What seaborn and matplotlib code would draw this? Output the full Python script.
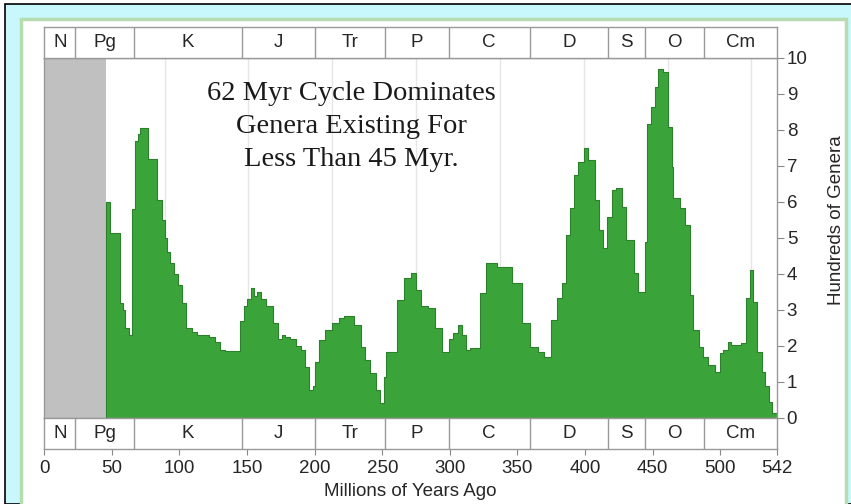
import seaborn as sns
import matplotlib.pyplot as plt
from matplotlib.patches import Rectangle

# data: step values (hundreds of genera) starting at each age (Myr)
bin_start = [46, 48.6, 56, 58, 60, 63, 65, 67, 69, 71,
             77, 83, 87, 89, 91, 93, 96, 99, 102, 105,
             109, 113, 118, 122, 126, 130, 134, 145, 148, 150,
             153, 155, 157, 160, 164, 169, 173, 176, 178, 182,
             186, 190, 193, 196, 199, 200, 203, 208, 213, 218,
             222, 229, 234, 237, 241, 245, 248, 251, 253, 261,
             266, 271, 275, 279, 284, 289, 294, 299, 302, 306,
             309, 312, 315, 322, 327, 335, 346, 353, 359, 365,
             370, 375, 379, 383, 386, 389, 392, 395, 399, 402,
             407, 410, 413, 416, 420, 423, 427, 430, 436, 439,
             444, 446, 449, 452, 454, 458, 461, 464, 465, 470,
             474, 478, 480, 484, 487, 491, 496, 500, 502, 506,
             508, 515, 519, 522, 524, 527, 531, 533, 536, 538]
genera = [6.0, 5.15, 3.2, 3.0, 2.5, 2.3, 5.8, 7.7, 7.9, 8.05,
          7.2, 6.05, 5.5, 5.0, 4.6, 4.3, 4.0, 3.7, 3.2, 2.5,
          2.4, 2.3, 2.3, 2.25, 2.1, 1.9, 1.85, 2.7, 3.1, 3.3,
          3.6, 3.4, 3.5, 3.3, 3.1, 2.65, 2.2, 2.3, 2.26, 2.2,
          2.0, 1.9, 1.43, 0.78, 0.9, 1.56, 2.16, 2.44, 2.63, 2.77,
          2.83, 2.58, 1.98, 1.61, 1.24, 0.78, 0.41, 1.15, 1.84, 3.28,
          3.88, 4.02, 3.56, 3.1, 3.05, 2.5, 1.84, 2.2, 2.35, 2.58,
          2.3, 1.89, 1.94, 3.46, 4.3, 4.2, 3.74, 2.63, 1.98, 1.84,
          1.7, 2.72, 3.32, 3.74, 5.08, 5.82, 6.75, 7.12, 7.49, 7.17,
          6.06, 5.22, 4.71, 5.59, 6.33, 6.38, 5.87, 4.94, 4.02, 3.51,
          4.9, 8.18, 8.65, 9.2, 9.69, 9.62, 8.09, 6.98, 6.1, 5.82,
          5.36, 3.42, 2.44, 1.98, 1.7, 1.47, 1.28, 1.8, 1.89, 2.12,
          2.03, 2.07, 3.32, 4.11, 3.23, 1.84, 1.28, 0.9, 0.45, 0.13]
age_end = 542

period_names = ["N", "Pg", "K", "J", "Tr", "P", "C", "D", "S", "O", "Cm"]
period_bounds = [0, 23, 66, 146, 200, 252, 299, 359, 417, 444, 488, 542]
cycle_lines = [89, 151, 213, 275, 337, 399, 461, 523]
x_ticks = [0, 50, 100, 150, 200, 250, 300, 350, 400, 450, 500, 542]
y_ticks = list(range(0, 11))

title = "62 Myr Cycle Dominates\nGenera Existing For\nLess Than 45 Myr."

sns.set_style("ticks")
plt.rcParams['font.family'] = ['Liberation Sans', 'DejaVu Sans']

fig = plt.figure(figsize=(8.51, 5.04), dpi=100)
fig.patch.set_facecolor("white")
W, H = 851, 504
# outer cyan frame and inner white panel
fig.patches.append(Rectangle((5 / W, 0), 1, 1 - 4 / H, transform=fig.transFigure,
                             facecolor="#c8f8fb", edgecolor="black", linewidth=1.2, zorder=-10))
fig.patches.append(Rectangle((21 / W, -0.01), (846 - 21) / W, 1 - 19 / H + 0.01,
                             transform=fig.transFigure, facecolor="white",
                             edgecolor="#b6dcb0", linewidth=2.5, zorder=-9))

left, right = 44.3 / W, 777 / W
ax = fig.add_axes([left, 1 - 418 / H, right - left, 360 / H])
ax_top = fig.add_axes([left, 1 - 58 / H, right - left, 31 / H])
ax_bot = fig.add_axes([left, 1 - 449 / H, right - left, 31 / H])

green = "#3aa43a"
edges = bin_start + [age_end]
mids = [(a + b) / 2 for a, b in zip(edges[:-1], edges[1:])]
sns.histplot(x=mids, weights=genera, bins=edges, element="step", fill=True,
             color=green, alpha=1, edgecolor="#2c802c", linewidth=0.8, ax=ax)

ax.axvspan(0, 45.6, color="#c0c0c0", zorder=0, linewidth=0)
for c in cycle_lines:
    ax.axvline(c, color="#e6e6e6", linewidth=1, zorder=0)

ax.set_xlim(0, age_end)
ax.set_ylim(0, 10)
ax.set_xticks([])
ax.yaxis.tick_right()
ax.set_yticks(y_ticks)
ax.tick_params(axis="y", direction="out", length=5, color="#888888",
               labelsize=13.5, pad=2)
ax.yaxis.set_label_position("right")
ax.set_ylabel("Hundreds of Genera", fontsize=13.5)
ax.yaxis.set_label_coords(1.07, 0.55)
ax.set_xlabel("")
for s in ax.spines.values():
    s.set_color("#999999")
    s.set_linewidth(1)

ax.text(227, 8.1, title, ha="center", va="center", fontsize=20.5,
        family="Liberation Serif", linespacing=1.4, color="#1a1a1a")

for band in (ax_top, ax_bot):
    band.set_xlim(0, age_end)
    band.set_ylim(0, 1)
    band.set_yticks([])
    for s in band.spines.values():
        s.set_color("#999999")
        s.set_linewidth(1)
    for b in period_bounds[1:-1]:
        band.axvline(b, color="#999999", linewidth=1)
    for name, a, b in zip(period_names, period_bounds[:-1], period_bounds[1:]):
        band.text((a + b) / 2, 0.5, name, ha="center", va="center", fontsize=13.5)

ax_top.set_xticks([])
ax_bot.set_xticks(x_ticks)
ax_bot.set_xticklabels([str(t) for t in x_ticks])
ax_bot.tick_params(axis="x", direction="out", length=4, color="#888888",
                   labelsize=13.5, pad=4)
ax_bot.set_xlabel("Millions of Years Ago", fontsize=13.5, labelpad=4)

fig.savefig("out.png", dpi=100)
